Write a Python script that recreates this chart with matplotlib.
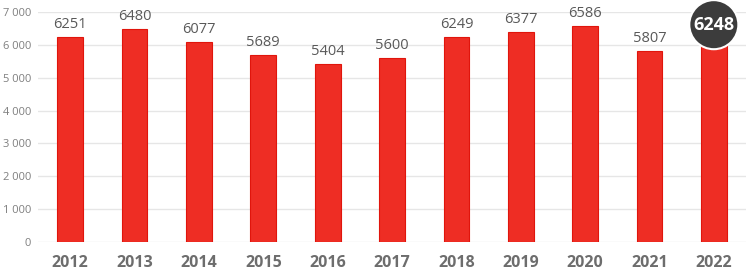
import matplotlib.pyplot as plt

years = ['2012', '2013', '2014', '2015', '2016', '2017', '2018', '2019', '2020', '2021', '2022']
values = [6251, 6480, 6077, 5689, 5404, 5600, 6249, 6377, 6586, 5807, 6248]
yticks = [0, 1000, 2000, 3000, 4000, 5000, 6000, 7000]
ytick_labels = ['0', '1 000', '2 000', '3 000', '4 000', '5 000', '6 000', '7 000']

plt.rcParams['font.family'] = ['Open Sans', 'DejaVu Sans']

fig = plt.figure(figsize=(7.46, 2.7), dpi=100)
ax = fig.add_axes([0.051, 0.1037, 0.949, 0.852])

x = list(range(len(years)))
ax.bar(x, values, width=0.4, color='#ee2d24', edgecolor='#e0150c', linewidth=0.8, zorder=2)

for i, v in enumerate(values[:-1]):
    ax.annotate(str(v), xy=(i, v), xytext=(0, 5), textcoords='offset pixels',
                ha='center', va='bottom', fontsize=10.5, color='#595959')

# highlighted last value
ax.annotate(str(values[-1]), xy=(x[-1], values[-1]), xytext=(0, 12), textcoords='offset pixels',
            ha='center', va='center', fontsize=13, fontweight='bold', color='white',
            bbox=dict(boxstyle='circle,pad=0.22', fc='#3c3c3c', ec='white', lw=1.5),
            annotation_clip=False, zorder=5)

ax.set_xlim(-0.5, len(years) - 0.5)
ax.set_ylim(0, 7000)
ax.set_yticks(yticks)
ax.set_yticklabels(ytick_labels, fontsize=8, color='#7f7f7f')
ax.set_xticks(x)
ax.set_xticklabels(years, fontsize=11.5, fontweight='bold', color='#6d6d6d')
ax.tick_params(axis='both', length=0)
ax.tick_params(axis='x', pad=9)
ax.tick_params(axis='y', pad=5)
ax.grid(axis='y', color='#e6e6e6', linewidth=1, zorder=0)
for s in ax.spines.values():
    s.set_visible(False)

fig.savefig('out.png', dpi=100)
